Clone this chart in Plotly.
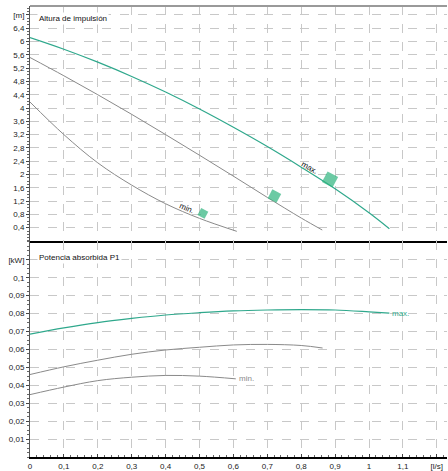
import plotly.graph_objects as go
from plotly.subplots import make_subplots

# ---- data ----
q_max_h = [0, 0.1, 0.2, 0.3, 0.4, 0.5, 0.6, 0.7, 0.8, 0.9, 1.0, 1.06]
h_max = [6.12, 5.77, 5.38, 4.95, 4.48, 3.97, 3.42, 2.84, 2.22, 1.57, 0.85, 0.37]

q_mid_h = [0, 0.1, 0.2, 0.3, 0.4, 0.5, 0.6, 0.7, 0.8, 0.862]
h_mid = [5.52, 4.97, 4.40, 3.81, 3.20, 2.58, 1.95, 1.31, 0.69, 0.33]

q_min_h = [0, 0.1, 0.2, 0.3, 0.4, 0.5, 0.61]
h_min = [4.18, 3.20, 2.35, 1.68, 1.12, 0.68, 0.29]

q_max_p = [0, 0.1, 0.2, 0.3, 0.4, 0.5, 0.6, 0.7, 0.8, 0.9, 1.0, 1.06]
p_max = [0.0685, 0.072, 0.075, 0.0773, 0.0792, 0.0805, 0.0815, 0.082, 0.0822, 0.082, 0.081, 0.0803]

q_mid_p = [0, 0.1, 0.2, 0.3, 0.4, 0.5, 0.6, 0.7, 0.8, 0.863]
p_mid = [0.046, 0.0503, 0.054, 0.0573, 0.0597, 0.0612, 0.0625, 0.0628, 0.0622, 0.0608]

q_min_p = [0, 0.1, 0.2, 0.3, 0.4, 0.5, 0.607]
p_min = [0.0348, 0.039, 0.0426, 0.0445, 0.0455, 0.0451, 0.0436]

op_q = [0.885, 0.721, 0.51]
op_h = [1.85, 1.35, 0.83]

x_tickvals = [0, 0.1, 0.2, 0.3, 0.4, 0.5, 0.6, 0.7, 0.8, 0.9, 1.0, 1.1, 1.2]
x_ticktext = ["0", "0,1", "0,2", "0,3", "0,4", "0,5", "0,6", "0,7", "0,8", "0,9", "1", "1,1", "[l/s]"]
h_tickvals = [0.4, 0.8, 1.2, 1.6, 2.0, 2.4, 2.8, 3.2, 3.6, 4.0, 4.4, 4.8, 5.2, 5.6, 6.0, 6.4, 6.8]
h_ticktext = ["0,4", "0,8", "1,2", "1,6", "2", "2,4", "2,8", "3,2", "3,6", "4", "4,4", "4,8", "5,2", "5,6", "6", "6,4", "[m]"]
p_tickvals = [0.01, 0.02, 0.03, 0.04, 0.05, 0.06, 0.07, 0.08, 0.09, 0.1, 0.11]
p_ticktext = ["0,01", "0,02", "0,03", "0,04", "0,05", "0,06", "0,07", "0,08", "0,09", "0,1", "[kW]"]

TEAL = "#2fa88c"
GRAY = "#8a8a8a"
MARK = "#2db47e"
FONT = "Liberation Sans, Arial, sans-serif"

fig = make_subplots(rows=2, cols=1, shared_xaxes=True, vertical_spacing=0)

fig.add_trace(go.Scatter(x=q_max_h, y=h_max, mode="lines", line=dict(color=TEAL, width=1.2, shape="spline")), 1, 1)
fig.add_trace(go.Scatter(x=q_mid_h, y=h_mid, mode="lines", line=dict(color=GRAY, width=1, shape="spline")), 1, 1)
fig.add_trace(go.Scatter(x=q_min_h, y=h_min, mode="lines", line=dict(color=GRAY, width=1, shape="spline")), 1, 1)
fig.add_trace(go.Scatter(x=op_q, y=op_h, mode="markers",
                         marker=dict(symbol="square", size=[12, 10, 8], angle=28, color=MARK, line=dict(width=0))), 1, 1)

fig.add_trace(go.Scatter(x=q_max_p, y=p_max, mode="lines", line=dict(color=TEAL, width=1.2, shape="spline")), 2, 1)
fig.add_trace(go.Scatter(x=q_mid_p, y=p_mid, mode="lines", line=dict(color=GRAY, width=1, shape="spline")), 2, 1)
fig.add_trace(go.Scatter(x=q_min_p, y=p_min, mode="lines", line=dict(color=GRAY, width=1, shape="spline")), 2, 1)

grid = dict(showgrid=True, gridcolor="#c8c8c8", griddash="dash", gridwidth=1)

fig.update_xaxes(range=[0, 1.23], tickmode="array", tickvals=x_tickvals, ticktext=x_ticktext,
                 showline=True, linecolor="black", linewidth=2, zeroline=False,
                 ticks="inside", ticklen=3, tickcolor="#444",
                 minor=dict(ticks="inside", ticklen=2, dtick=0.02, tick0=0, tickcolor="#666", showgrid=False),
                 tickfont=dict(family=FONT, size=8, color="#222"), automargin=False, **grid)
fig.update_xaxes(showticklabels=False, ticks="", minor=dict(ticks=""), row=1, col=1)

fig.update_yaxes(range=[0, 7.07], tickmode="array", tickvals=h_tickvals, ticktext=h_ticktext,
                 showline=True, linecolor="#555", linewidth=1, zeroline=False,
                 ticks="outside", ticklen=3, tickcolor="#444",
                 minor=dict(ticks="outside", ticklen=2, dtick=0.1, tick0=0, tickcolor="#666", showgrid=False),
                 tickfont=dict(family=FONT, size=8, color="#222"), automargin=False, row=1, col=1, **grid)
fig.update_yaxes(range=[0, 0.1205], tickmode="array", tickvals=p_tickvals, ticktext=p_ticktext,
                 showline=True, linecolor="#555", linewidth=1, zeroline=False,
                 ticks="outside", ticklen=3, tickcolor="#444",
                 minor=dict(ticks="outside", ticklen=2, dtick=0.0025, tick0=0, tickcolor="#666", showgrid=False),
                 tickfont=dict(family=FONT, size=8, color="#222"), automargin=False, row=2, col=1, **grid)

fig.update_layout(yaxis=dict(domain=[0.479, 1]), yaxis2=dict(domain=[0, 0.479]))

ann = [
    dict(text="Altura de impulsión", xref="x domain", yref="y domain", x=0.017, y=0.945,
         xanchor="left", yanchor="middle", showarrow=False, bgcolor="white",
         font=dict(family=FONT, size=8, color="#111")),
    dict(text="Potencia absorbida P1", xref="x2 domain", yref="y2 domain", x=0.017, y=0.922,
         xanchor="left", yanchor="middle", showarrow=False, bgcolor="white",
         font=dict(family=FONT, size=8, color="#111")),
    dict(text="max.", xref="x", yref="y", x=0.823, y=2.22, textangle=29, showarrow=False,
         font=dict(family=FONT, size=8, color="#111")),
    dict(text="min.", xref="x", yref="y", x=0.463, y=0.97, textangle=23, showarrow=False,
         font=dict(family=FONT, size=8, color="#111")),
    dict(text="max.", xref="x2", yref="y2", x=q_max_p[-1], y=p_max[-1], xanchor="left", yanchor="middle",
         xshift=1, showarrow=False, font=dict(family=FONT, size=8, color=TEAL)),
    dict(text="min.", xref="x2", yref="y2", x=q_min_p[-1], y=p_min[-1], xanchor="left", yanchor="middle",
         xshift=1, showarrow=False, font=dict(family=FONT, size=8, color=GRAY)),
]

fig.update_layout(
    width=448, height=471,
    margin=dict(l=30, r=1, t=6, b=14),
    paper_bgcolor="white", plot_bgcolor="white",
    showlegend=False,
    annotations=ann,
    shapes=[dict(type="line", xref="paper", yref="paper", x0=0, x1=1, y0=1, y1=1,
                 line=dict(color="#999", width=2))],
)

fig.write_html("out.html", config={"displayModeBar": False},
               post_script="document.body.style.margin='0';document.body.style.padding='0';")
